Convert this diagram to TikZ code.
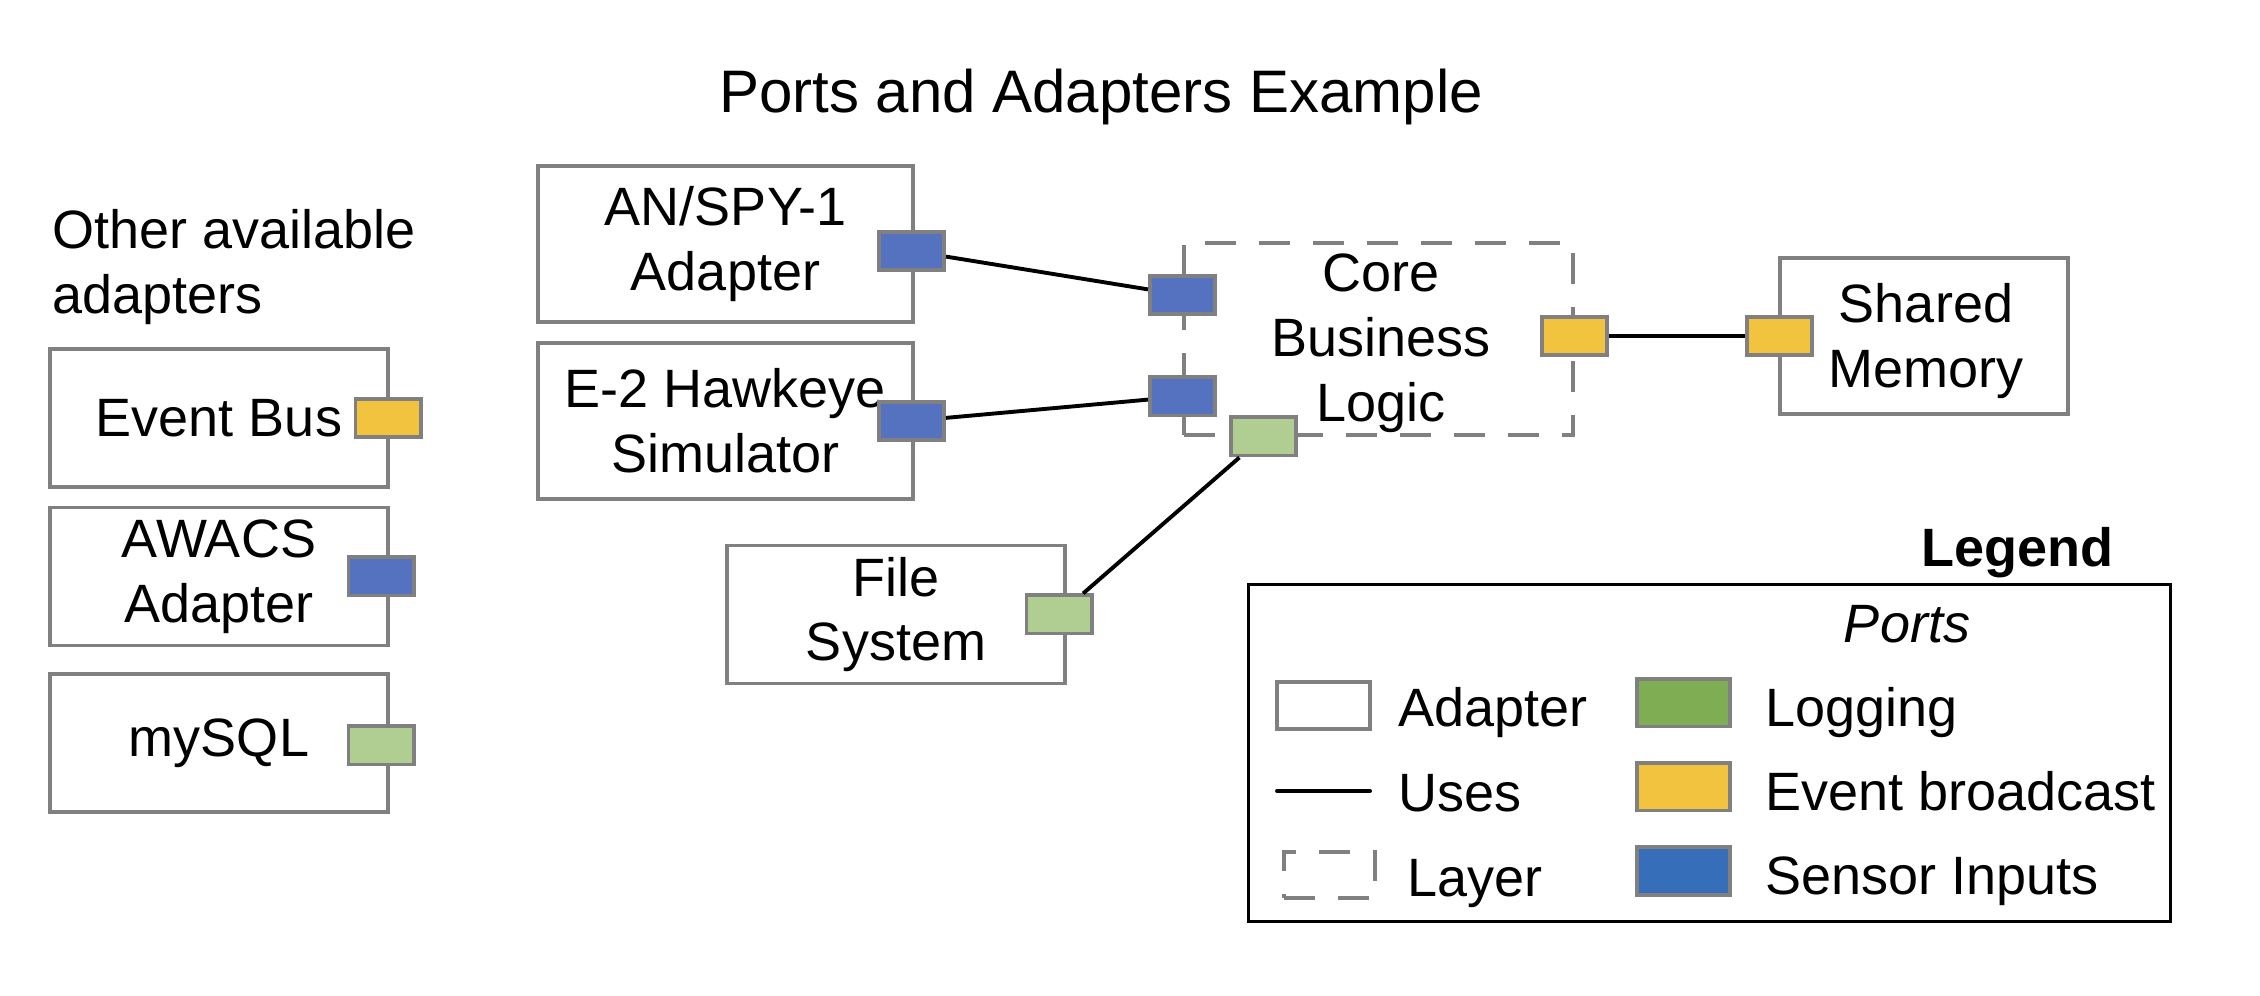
\documentclass[tikz,border=0pt]{standalone}
\usepackage{fontspec}
\setmainfont{Liberation Sans}
\usepackage{xcolor}
\usepackage{tikz}
\usetikzlibrary{positioning,calc}
\definecolor{sensorcolor}{RGB}{85,114,192}
\definecolor{eventcolor}{RGB}{242,195,62}
\definecolor{logcolor}{RGB}{176,206,146}
\definecolor{keylogcolor}{RGB}{127,173,84}
\definecolor{keysensorcolor}{RGB}{55,110,186}
\definecolor{bordercolor}{RGB}{128,128,128}
\newcommand{\bodysize}{\fontsize{18}{21.6}\selectfont}
\tikzset{
    adapter/.style={rectangle, draw=bordercolor, line width=1.3pt, fill=white, align=center, inner sep=0pt},
    wide adapter/.style={adapter, minimum width=125pt, minimum height=52pt},
    small adapter/.style={adapter, minimum width=112.7pt, minimum height=46pt},
    memory adapter/.style={adapter, minimum width=96pt, minimum height=52pt},
    layer/.style={rectangle, draw=bordercolor, line width=1.3pt, dash pattern=on 10.3pt off 7.7pt, align=center, inner sep=0pt},
    port/.style={rectangle, draw=bordercolor, line width=1.3pt, minimum width=21.7pt, minimum height=12.7pt, inner sep=0pt},
    sensor port/.style={port, fill=sensorcolor},
    event port/.style={port, fill=eventcolor},
    log port/.style={port, fill=logcolor},
    key/.style={minimum width=31pt, minimum height=15.7pt},
    key label/.style={anchor=base west, inner sep=0pt},
    uses/.style={line width=1.3pt, black},
    title/.style={anchor=base, inner sep=0pt, font=\fontsize{20}{24}\selectfont},
    legend box/.style={rectangle, draw=black, line width=1.1pt, minimum width=307.2pt, minimum height=112.2pt}
}

\begin{document}
\begin{tikzpicture}[x=0.3333pt, y=-0.3333pt, font=\bodysize]
    \useasboundingbox (0,0) rectangle (2260,996);

    % Title
    \node[title] (title) at (1101,113) {Ports and Adapters Example};

    % Other available adapters
    \node[anchor=north west, align=left, inner sep=0pt] (otherlabel) at (52,209) {Other available\\adapters};
    \node[small adapter] (eventbus) at (219,418) {Event Bus};
    \node[event port] (eventbusP) at (388,418) {};
    \node[small adapter] (awacs) at (219,576.5) {AWACS\\Adapter};
    \node[sensor port] (awacsP) at (381,576.5) {};
    \node[small adapter] (mysql) at (219,743) {mySQL};
    \node[log port] (mysqlP) at (381,745.5) {};

    % Adapters in use
    \node[wide adapter] (spy) at (725.5,244) {AN/SPY-1\\Adapter};
    \node[sensor port] (spyP) at (911.5,251) {};
    \node[wide adapter] (hawkeye) at (725.5,421) {E-2 Hawkeye\\Simulator};
    \node[sensor port] (hawkeyeP) at (911.5,421) {};
    \node[small adapter] (filesys) at (896,614.5) {File\\System};
    \node[log port] (filesysP) at (1059,614.5) {};

    % Core layer with its ports
    \node[layer, minimum width=129.7pt, minimum height=64pt] (core) at (1378.5,339) {};
    \node[align=center, inner sep=0pt] (coretext) at (1381,343) {Core\\Business\\Logic};
    \node[sensor port] (coreA) at (1182.5,295) {};
    \node[sensor port] (coreB) at (1182.5,396.5) {};
    \node[log port] (coreC) at (1263.5,436.5) {};
    \node[event port] (coreD) at (1574.5,336) {};

    % Shared memory
    \node[memory adapter] (shared) at (1924,336) {};
    \node[align=center, inner sep=0pt] (sharedtext) at (1926,341) {Shared\\Memory};
    \node[event port] (sharedP) at (1779.5,336) {};

    % Uses connections
    \draw[uses] (spyP) -- (coreA);
    \draw[uses] (hawkeyeP) -- (coreB);
    \draw[uses] (filesysP) -- (coreC);
    \draw[uses] (coreD) -- (sharedP);

    % Legend
    \node[anchor=base, inner sep=0pt, font=\bodysize\bfseries] (legendtitle) at (2017,567) {Legend};
    \node[legend box] (legend) at (1709.5,753) {};
    \node[anchor=base, inner sep=0pt, font=\bodysize\itshape] (portstitle) at (1907,643) {Ports};

    \node[adapter, key] (keyadapter) at (1323.5,705.5) {};
    \node[key label] (keyadapterL) at (1398,727) {Adapter};
    \coordinate (keyusesA) at (1277,791);
    \coordinate (keyusesB) at (1370,791);
    \draw[uses, line cap=round] (keyusesA) -- (keyusesB);
    \node[key label] (keyusesL) at (1398,812) {Uses};
    \node[layer, minimum width=30.3pt, minimum height=15.3pt] (keylayer) at (1329.5,875) {};
    \node[key label] (keylayerL) at (1407,897) {Layer};

    \foreach \name/\col/\y/\txt in {log/keylogcolor/703/Logging, event/eventcolor/787/Event broadcast, sensor/keysensorcolor/871/Sensor Inputs} {
        \node[port, key, fill=\col] (key\name) at (1683.5,\y) {};
        \node[key label] (key\name L) at (1765,\y+24) {\txt};
    }
\end{tikzpicture}
\end{document}
